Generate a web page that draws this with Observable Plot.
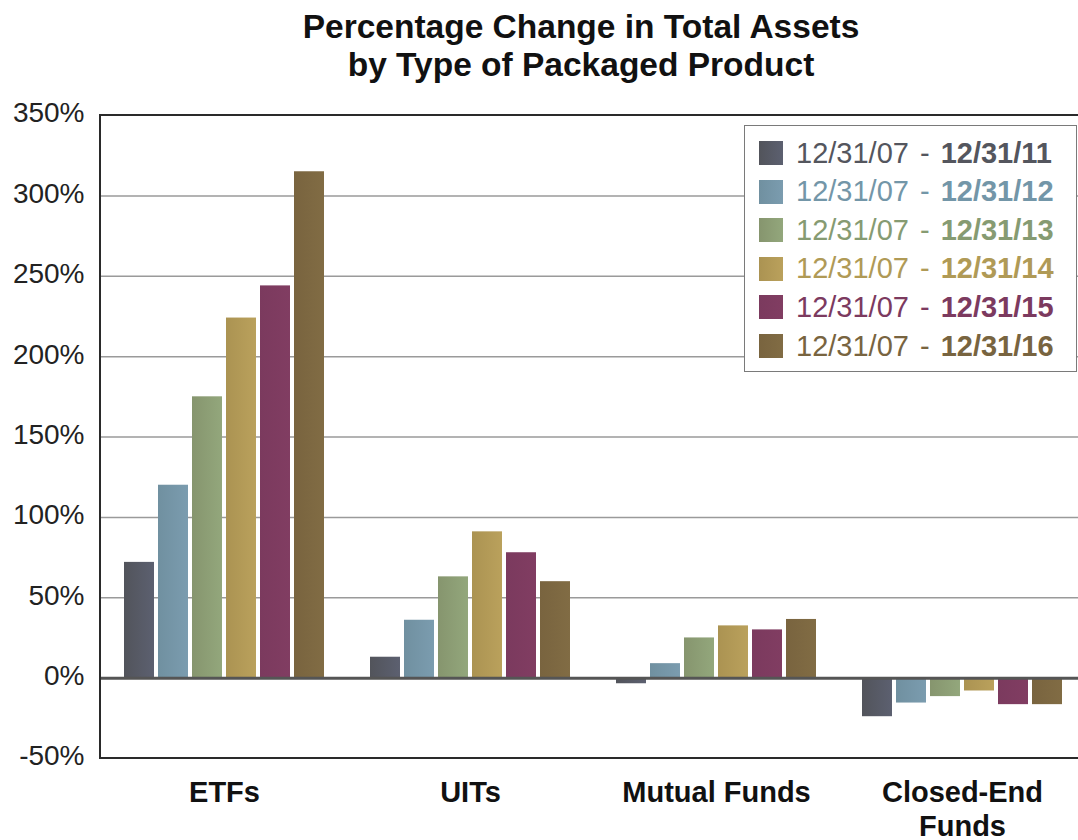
<!DOCTYPE html>
<html>
<head>
<meta charset="utf-8">
<script src="https://cdn.jsdelivr.net/npm/d3@7"></script>
<script src="https://cdn.jsdelivr.net/npm/@observablehq/plot@0.6"></script>
<style>
  html, body { margin: 0; padding: 0; background: #fff; overflow: hidden; width: 1078px; height: 840px; }
  body { font-family: "Liberation Sans", Arial, sans-serif; position: relative; }
  #title { position: absolute; left: 0; top: 8px; width: 1162px; text-align: center; font-weight: bold; font-size: 33.5px; line-height: 38px; color: #111; }
  #chart { position: absolute; left: 0; top: 80px; width: 1078px; height: 760px; overflow: hidden; }
  #legend { position: absolute; left: 744px; top: 125px; width: 333px; height: 247px; border: 1.5px solid #7a7a7a; box-sizing: border-box; background: #fff; }
  .row { position: absolute; left: 14px; height: 30px; display: flex; align-items: center; font-size: 29px; white-space: nowrap; word-spacing: 3px; }
  .sw { width: 24px; height: 24px; margin-right: 13px; flex: none; }
</style>
</head>
<body>
<div id="title">Percentage Change in Total Assets<br>by Type of Packaged Product</div>
<div id="chart"></div>
<div id="legend"></div>
<script>
// ---- data ----
const categories = ["ETFs", "UITs", "Mutual Funds", "Closed-End Funds"];
const categoryLabels = ["ETFs", "UITs", "Mutual Funds", "Closed-End\nFunds"];
const periodStart = "12/31/07";
const periodEnds = ["12/31/11", "12/31/12", "12/31/13", "12/31/14", "12/31/15", "12/31/16"];
const change2011 = [72, 13, -3.5, -24];
const change2012 = [120, 36, 9, -15.5];
const change2013 = [175, 63, 25, -11.5];
const change2014 = [224, 91, 32.5, -8];
const change2015 = [244, 78, 30, -16.5];
const change2016 = [315, 60, 36.5, -16.5];
const yTicks = [-50, 0, 50, 100, 150, 200, 250, 300, 350];

// ---- styles ----
const gradLeft  = ["#52545b", "#7090a0", "#86956e", "#ab9352", "#7b3a5e", "#79643f"];
const gradRight = ["#5c6070", "#7b9caf", "#93a77c", "#baa15c", "#813d62", "#816c44"];
const textColors = ["#54565e", "#7396a8", "#869b72", "#b09a56", "#7c3a5f", "#786440"];

const seriesValues = [change2011, change2012, change2013, change2014, change2015, change2016];
const seriesNames = periodEnds.map(e => `${periodStart} - ${e}`);
const data = [];
seriesValues.forEach((vals, s) => {
  vals.forEach((v, c) => data.push({category: categories[c], series: seriesNames[s], value: v}));
});
const labelData = categories.map((c, i) => ({category: c, label: categoryLabels[i]}));

const plot = Plot.plot({
  width: 1078,
  height: 760,
  marginLeft: 100,
  marginRight: 0,
  marginTop: 35,
  marginBottom: 82,
  style: {fontFamily: "'Liberation Sans', Arial, sans-serif", fontSize: "28px", color: "#222", background: "transparent"},
  fx: {domain: categories, padding: 0, axis: null, range: [100, 1086]},
  x: {domain: seriesNames, paddingInner: 0.114, paddingOuter: 0.578, axis: null},
  y: {domain: [-50, 350], axis: null},
  color: {type: "ordinal", domain: seriesNames, range: seriesNames.map((_, i) => `url(#grad${i})`)},
  marks: [
    Plot.gridY({ticks: yTicks.filter(t => t > -50 && t < 350 && t !== 0), stroke: "#9a9a9a", strokeOpacity: 1, strokeWidth: 1.5}),
    Plot.barY(data, {fx: "category", x: "series", y: "value", fill: "series"}),
    Plot.ruleY([0], {stroke: "#555", strokeWidth: 3}),
    Plot.axisY({ticks: yTicks, tickFormat: d => d + "%", tickSize: 0, tickPadding: 17, dy: -2, fontSize: 28, fill: "#222", label: null}),
    Plot.text(labelData, {fx: "category", text: "label", frameAnchor: "bottom", lineAnchor: "top", dy: 20, fontWeight: "bold", fontSize: 29, lineHeight: 1.15, fill: "#111"})
  ]
});

// gradient definitions for the bar fills
const ns = "http://www.w3.org/2000/svg";
const defs = document.createElementNS(ns, "defs");
gradLeft.forEach((c, i) => {
  const g = document.createElementNS(ns, "linearGradient");
  g.setAttribute("id", `grad${i}`);
  g.setAttribute("x1", "0"); g.setAttribute("x2", "1"); g.setAttribute("y1", "0"); g.setAttribute("y2", "0");
  const s1 = document.createElementNS(ns, "stop"); s1.setAttribute("offset", "0"); s1.setAttribute("stop-color", c);
  const s2 = document.createElementNS(ns, "stop"); s2.setAttribute("offset", "1"); s2.setAttribute("stop-color", gradRight[i]);
  g.appendChild(s1); g.appendChild(s2); defs.appendChild(g);
});
plot.insertBefore(defs, plot.firstChild);

// outer frame from the scales
const fxs = plot.scale("fx"), ys = plot.scale("y");
const x0 = fxs.range[0], x1 = fxs.range[1];
const yTop = ys.apply(350), yBot = ys.apply(-50);
const frame = document.createElementNS(ns, "rect");
frame.setAttribute("x", x0); frame.setAttribute("y", yTop);
frame.setAttribute("width", x1 - x0); frame.setAttribute("height", yBot - yTop);
frame.setAttribute("fill", "none"); frame.setAttribute("stroke", "#2a2a2a"); frame.setAttribute("stroke-width", 2);
plot.appendChild(frame);

document.getElementById("chart").appendChild(plot);

// legend
const legend = document.getElementById("legend");
periodEnds.forEach((e, i) => {
  const row = document.createElement("div");
  row.className = "row";
  row.style.top = (12 + i * 38.6) + "px";
  row.style.color = textColors[i];
  const sw = document.createElement("span");
  sw.className = "sw";
  sw.style.background = `linear-gradient(to right, ${gradLeft[i]}, ${gradRight[i]})`;
  row.appendChild(sw);
  const t = document.createElement("span");
  t.innerHTML = `${periodStart} - <b>${e}</b>`;
  row.appendChild(t);
  legend.appendChild(row);
});
</script>
</body>
</html>
